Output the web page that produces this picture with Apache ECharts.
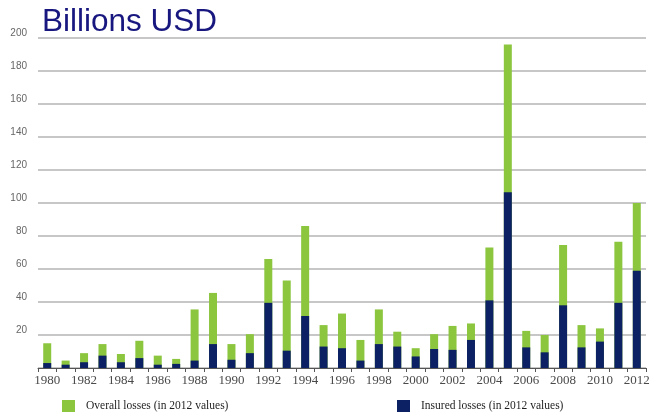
<!DOCTYPE html>
<html>
<head>
<meta charset="utf-8">
<title>Billions USD</title>
<script src="https://cdn.jsdelivr.net/npm/echarts@6/dist/echarts.min.js"></script>
<style>
  html, body { margin: 0; padding: 0; background: #ffffff; }
  #chart { width: 653px; height: 414px; }
</style>
</head>
<body>
<div id="chart"></div>
<script>
// Years on the category axis
const years = [
  '1980','1981','1982','1983','1984','1985','1986','1987','1988','1989',
  '1990','1991','1992','1993','1994','1995','1996','1997','1998','1999',
  '2000','2001','2002','2003','2004','2005','2006','2007','2008','2009',
  '2010','2011','2012'
];

// Overall losses, billions USD (2012 values)
const overallLosses = [
  15, 4.5, 9, 14.5, 8.5, 16.5, 7.5, 5.5, 35.5, 45.5,
  14.5, 20.5, 66, 53, 86, 26, 33, 17, 35.5, 22,
  12, 20.5, 25.5, 27, 73, 196, 22.5, 20, 74.5, 26,
  24, 76.5, 100
];

// Insured losses, billions USD (2012 values)
const insuredLosses = [
  3, 2, 3.5, 7.5, 3.5, 6, 2, 2.5, 4.5, 14.5,
  5, 9, 39.5, 10.5, 31.5, 13, 12, 4.5, 14.5, 13,
  7, 11.5, 11, 17, 41, 106.5, 12.5, 9.5, 38, 12.5,
  16, 39.5, 59
];

// Value axis ticks
const yMin = 0;
const yMax = 200;
const yStep = 20;

const overallName = 'Overall losses (in 2012 values)';
const insuredName = 'Insured losses (in 2012 values)';

const GREEN = '#8cc63f';
const NAVY = '#0c2163';

const chart = echarts.init(document.getElementById('chart'), null, { renderer: 'canvas' });

const legendText = {
  fontFamily: 'Liberation Serif',
  fontSize: 11.5,
  color: '#1e1e1e',
  padding: [0, 0, 0, 6]
};

chart.setOption({
  animation: false,
  backgroundColor: '#ffffff',
  title: {
    text: 'Billions USD',
    left: 42,
    top: 6,
    padding: 0,
    textStyle: {
      fontFamily: 'Liberation Sans',
      fontSize: 31.5,
      fontWeight: 'normal',
      color: '#17177f'
    }
  },
  legend: [
    {
      data: [overallName],
      left: 62,
      top: 400,
      padding: 0,
      icon: 'rect',
      itemWidth: 13,
      itemHeight: 12,
      selectedMode: false,
      textStyle: legendText
    },
    {
      data: [insuredName],
      left: 397,
      top: 400,
      padding: 0,
      icon: 'rect',
      itemWidth: 13,
      itemHeight: 12,
      selectedMode: false,
      textStyle: legendText
    }
  ],
  grid: {
    left: 38,
    right: 7,
    top: 38,
    bottom: 46,
    containLabel: false
  },
  xAxis: {
    type: 'category',
    data: years,
    boundaryGap: true,
    axisLine: { show: true, lineStyle: { color: '#555555', width: 1 } },
    axisTick: { show: true, interval: 0, length: 4, lineStyle: { color: '#555555' } },
    axisLabel: {
      interval: 1,
      margin: 6,
      fontFamily: 'Liberation Serif',
      fontSize: 13,
      color: '#4a4a4a'
    },
    splitLine: { show: false }
  },
  yAxis: {
    type: 'value',
    min: yMin,
    max: yMax,
    interval: yStep,
    axisLine: { show: false },
    axisTick: { show: false },
    axisLabel: {
      showMinLabel: false,
      margin: 11,
      verticalAlign: 'bottom',
      fontFamily: 'Liberation Sans',
      fontSize: 10,
      color: '#666666'
    },
    splitLine: { show: true, lineStyle: { color: '#b4b4b4', width: 1.6 } }
  },
  series: [
    {
      name: overallName,
      type: 'bar',
      data: overallLosses,
      barWidth: 8,
      barGap: '-100%',
      itemStyle: { color: GREEN },
      z: 2
    },
    {
      name: insuredName,
      type: 'bar',
      data: insuredLosses,
      barWidth: 8,
      barGap: '-100%',
      itemStyle: { color: NAVY },
      z: 3
    }
  ]
});
</script>
</body>
</html>
